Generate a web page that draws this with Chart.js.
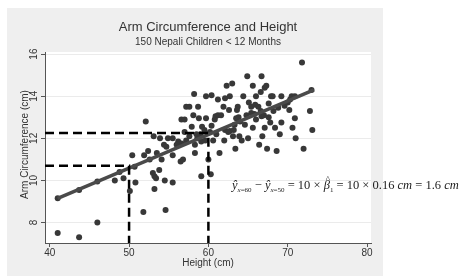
<!DOCTYPE html>
<html>
<head>
<meta charset="utf-8">
<script src="https://cdn.jsdelivr.net/npm/chart.js@4/dist/chart.umd.min.js"></script>
<style>
  html, body { margin: 0; padding: 0; background: #fff; }
  #wrap { position: relative; width: 466px; height: 276px; }
  #formula {
    position: absolute; left: 232px; top: 178px; white-space: nowrap;
    font-family: "Liberation Serif", "DejaVu Serif", serif; font-size: 12.5px; color: #222;
  }
  #formula i { font-style: italic; }
  #formula sub { font-size: 7px; vertical-align: -3px; }
  .hat { position: relative; display: inline-block; }
  .hat b { position: absolute; left: 2px; top: -4px; font-weight: normal; font-style: normal; font-size: 9px; }
</style>
</head>
<body>
<div id="wrap">
  <canvas id="myChart" width="466" height="276"></canvas>
  <div id="formula"><i>ŷ</i><sub><i>x</i>=60</sub> − <i>ŷ</i><sub><i>x</i>=50</sub> = 10 × <span class="hat"><i>β</i><b>^</b></span><sub>1</sub> = 10 × 0.16 <i>cm</i> = 1.6 <i>cm</i></div>
</div>
<script>
// Scatter data: height (cm) and arm circumference (cm)
let heights = [41.0, 43.7, 46.0, 41.0, 43.7, 46.0, 48.2, 49.3, 50.1, 50.4, 50.8, 51.8, 52.1, 51.9, 52.4,
    53.0, 53.1, 53.2, 53.2, 53.4, 53.8, 53.9, 54.1, 54.4, 54.6, 54.5, 54.9, 55.5, 55.5, 56.2,
    56.5, 56.8, 56.6, 57.0, 57.2, 57.6, 56.6, 57.0, 57.6, 57.9, 58.1, 58.2, 58.3, 58.3, 58.5,
    58.7, 58.8, 59.1, 59.1, 59.2, 59.5, 59.7, 59.7, 60.0, 60.3, 60.2, 60.4, 60.6, 60.8, 60.9,
    61.2, 61.2, 61.4, 61.6, 61.9, 62.1, 62.1, 62.3, 62.6, 62.7, 62.7, 63.0, 63.1, 63.3, 63.4,
    63.5, 63.6, 63.7, 63.9, 64.2, 64.4, 64.6, 64.9, 65.0, 65.1, 65.4, 65.6, 65.6, 65.8, 66.0,
    66.3, 66.4, 66.6, 66.7, 66.7, 66.8, 67.1, 67.1, 67.3, 67.4, 67.6, 67.8, 67.9, 68.1, 68.4,
    68.6, 68.8, 69.0, 69.2, 69.2, 70.2, 70.3, 70.5, 70.6, 70.9, 71.0, 71.8, 72.0, 72.8, 73.1,
    73.0, 50.7, 55.5, 54.7, 57.2, 59.0, 59.6, 61.0, 62.5, 63.2, 63.8, 64.8, 65.4, 66.0, 66.6,
    67.0, 67.6, 68.2, 69.6, 70.0, 70.9, 53.5, 56.0, 58.6, 52.6, 60.4, 64.0, 65.9, 48.8, 62.0];
let armCirc = [7.5, 7.3, 8.0, 9.15, 9.55, 9.95, 10.0, 10.1, 9.5, 11.2, 9.9, 8.5, 12.8, 11.2, 11.4,
    10.35, 12.1, 10.2, 9.6, 10.1, 10.5, 12.0, 11.0, 11.7, 8.6, 10.0, 12.0, 9.9, 11.2, 11.85,
    10.9, 11.0, 12.9, 12.9, 13.5, 13.5, 11.75, 12.3, 12.1, 12.55, 13.1, 14.1, 11.3, 11.7, 12.2,
    13.5, 12.95, 11.85, 10.2, 12.55, 12.4, 12.95, 14.0, 11.0, 10.3, 12.3, 14.05, 11.9, 12.9, 13.05,
    13.85, 13.1, 11.3, 13.1, 13.5, 13.9, 12.4, 14.5, 13.35, 14.0, 12.35, 14.6, 12.1, 12.65, 11.5,
    12.95, 13.35, 13.5, 12.1, 11.9, 14.0, 12.65, 14.95, 12.0, 13.7, 13.5, 14.5, 12.5, 13.15, 14.0,
    13.5, 11.7, 14.2, 14.95, 13.05, 12.1, 12.5, 14.4, 14.5, 11.5, 13.65, 12.75, 14.0, 14.0, 12.5,
    11.4, 13.45, 12.2, 12.75, 14.0, 13.35, 13.85, 14.0, 12.5, 12.95, 12.0, 15.6, 11.5, 13.3, 12.4,
    14.3, 10.65, 12.0, 11.6, 11.9, 12.2, 11.9, 12.2, 12.3, 12.4, 13.0, 13.1, 13.2, 12.9, 13.3,
    13.1, 13.0, 13.3, 13.55, 13.7, 14.0, 11.3, 11.7, 12.0, 11.0, 12.6, 12.8, 13.6, 10.4, 11.9];

// fitted line ends and the two reference heights
let fitX = [41.0, 73.3];
let fitY = [9.15, 14.3];
let refX = [50, 60];
let refY = [10.7, 12.25];

let xTicks = [40, 50, 60, 70, 80];
let yTicks = [8, 10, 12, 14, 16];
let xRange = [39.4, 80.5];
let yRange = [7.03, 16.1];

let points = heights.map((h, i) => ({ x: h, y: armCirc[i] }));
let fitLine = fitX.map((x, i) => ({ x: x, y: fitY[i] }));

// dashed guide lines built from the reference values
function guide(i) {
    return [
        { x: xRange[0], y: refY[i] },
        { x: refX[i], y: refY[i] },
        { x: refX[i], y: yRange[0] }
    ];
}

const darkGray = '#383838';

// background panel + titles
const decor = {
    id: 'decor',
    beforeDraw(chart) {
        const c = chart.ctx;
        const a = chart.chartArea;
        c.save();
        c.fillStyle = '#efefef';
        c.fillRect(7, 8, 376, 268);
        c.fillStyle = '#ffffff';
        c.fillRect(a.left, a.top, a.right - a.left, a.bottom - a.top);
        c.restore();
    },
    afterDraw(chart) {
        const c = chart.ctx;
        const a = chart.chartArea;
        const mid = (a.left + a.right) / 2;
        c.save();
        c.fillStyle = '#333';
        c.textAlign = 'center';
        c.textBaseline = 'middle';
        c.font = '13px "Liberation Sans", Arial, sans-serif';
        c.fillText('Arm Circumference and Height', mid, 27);
        c.font = '10px "Liberation Sans", Arial, sans-serif';
        c.fillText('150 Nepali Children < 12 Months', mid, 42);
        c.fillText('Height (cm)', mid, 263);
        c.translate(25, (a.top + a.bottom) / 2 - 3);
        c.rotate(-Math.PI / 2);
        c.fillText('Arm Circumference (cm)', 0, 0);
        c.restore();
    }
};

const ctx = document.getElementById('myChart').getContext('2d');
const myChart = new Chart(ctx, {
    type: 'scatter',
    data: {
        datasets: [
            {
                data: guide(0), showLine: true, borderColor: '#000', borderWidth: 2.5,
                borderDash: [9, 5], pointRadius: 0, fill: false, order: 1
            },
            {
                data: guide(1), showLine: true, borderColor: '#000', borderWidth: 2.5,
                borderDash: [9, 5], pointRadius: 0, fill: false, order: 1
            },
            {
                data: points, backgroundColor: darkGray, borderColor: darkGray,
                pointRadius: 3, borderWidth: 0, order: 3
            },
            {
                data: fitLine, showLine: true, borderColor: '#4a4a4a', borderWidth: 3.5,
                pointRadius: 0, fill: false, order: 2
            }
        ]
    },
    options: {
        responsive: false,
        animation: false,
        layout: { padding: { left: 0, right: 95, top: 52, bottom: 0 } },
        plugins: { legend: { display: false }, tooltip: { enabled: false } },
        scales: {
            x: {
                type: 'linear', min: xRange[0], max: xRange[1],
                afterBuildTicks: s => { s.ticks = xTicks.map(v => ({ value: v })); },
                afterFit: s => { s.height = 33; },
                grid: { drawOnChartArea: false, drawTicks: true, tickLength: 4, tickColor: '#555', tickWidth: 1 },
                border: { color: '#555', width: 1 },
                ticks: { color: '#333', font: { size: 10, family: '"Liberation Sans", Arial' }, padding: 0, maxRotation: 0 }
            },
            y: {
                type: 'linear', min: yRange[0], max: yRange[1],
                afterBuildTicks: s => { s.ticks = yTicks.map(v => ({ value: v })); },
                afterFit: s => { s.width = 45; },
                grid: { color: '#ebebeb', lineWidth: 1, drawTicks: true, tickLength: 4, tickColor: '#555' },
                border: { color: '#555', width: 1 },
                ticks: {
                    color: '#333', font: { size: 10, family: '"Liberation Sans", Arial' },
                    minRotation: 90, maxRotation: 90, crossAlign: 'center', padding: 1
                }
            }
        }
    },
    plugins: [decor]
});
</script>
</body>
</html>
